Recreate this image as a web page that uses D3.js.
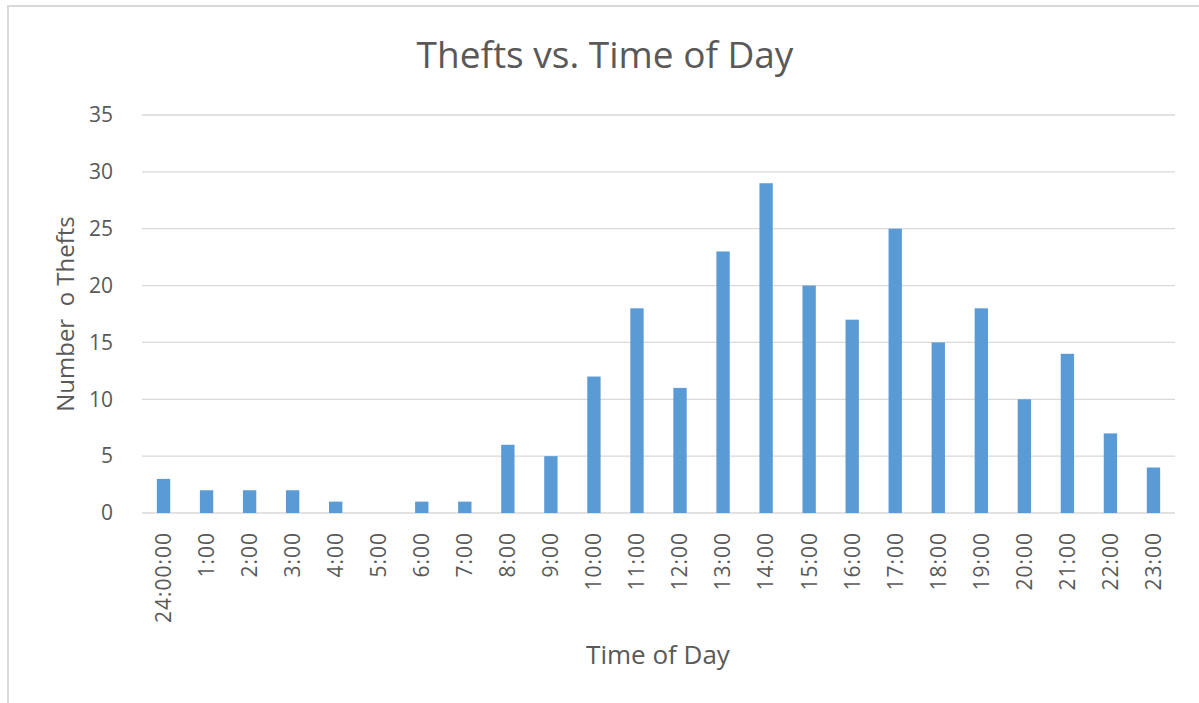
<!DOCTYPE html>
<html>
<head>
<meta charset="utf-8">
<script src="https://cdn.jsdelivr.net/npm/d3@7"></script>
<style>
  body { margin: 0; background: #fff; }
  text { font-family: "Open Sans", "Liberation Sans", sans-serif; fill: #595959; }
</style>
</head>
<body>
<div id="chart"></div>
<script>
// chart data
var hours = ["24:00:00", "1:00", "2:00", "3:00", "4:00", "5:00", "6:00", "7:00", "8:00", "9:00",
  "10:00", "11:00", "12:00", "13:00", "14:00", "15:00", "16:00", "17:00", "18:00", "19:00",
  "20:00", "21:00", "22:00", "23:00"];
var thefts = [3, 2, 2, 2, 1, 0, 1, 1, 6, 5, 12, 18, 11, 23, 29, 20, 17, 25, 15, 18, 10, 14, 7, 4];
var yTicks = [0, 5, 10, 15, 20, 25, 30, 35];

var W = 1199, H = 703;
var margin = {top: 115, right: 24, bottom: 190, left: 142},
    width = 1175 - margin.left,
    height = 513 - margin.top;

var svg = d3.select("#chart")
  .append("svg")
    .attr("width", W)
    .attr("height", H);

// outer frame (only top/left visible in the crop)
svg.append("rect")
  .attr("x", 8).attr("y", 6)
  .attr("width", W + 10).attr("height", H + 10)
  .attr("fill", "none")
  .attr("stroke", "#d9d9d9")
  .attr("stroke-width", 2);

var g = svg.append("g")
  .attr("transform", "translate(" + margin.left + "," + margin.top + ")");

var x = d3.scaleBand()
  .domain(hours)
  .range([0, width])
  .paddingInner(0.69)
  .paddingOuter(0.345);

var y = d3.scaleLinear()
  .domain([0, 35])
  .range([height, 0]);

// gridlines
g.append("g")
  .selectAll("line")
  .data(yTicks)
  .enter()
  .append("line")
    .attr("x1", 0)
    .attr("x2", width)
    .attr("y1", function(d) { return y(d); })
    .attr("y2", function(d) { return y(d); })
    .attr("stroke", "#d9d9d9")
    .attr("stroke-width", 1.3);

// y axis
var yAxis = g.append("g")
  .attr("transform", "translate(-26,0)")
  .call(d3.axisLeft(y).tickValues(yTicks).tickSize(0));
yAxis.select(".domain").remove();
yAxis.selectAll("text")
  .style("font-size", "21px")
  .attr("fill", "#595959");

// bars
g.append("g")
  .selectAll("rect")
  .data(thefts)
  .enter()
  .append("rect")
    .attr("x", function(d, i) { return x(hours[i]); })
    .attr("y", function(d) { return y(d); })
    .attr("width", x.bandwidth())
    .attr("height", function(d) { return height - y(d); })
    .attr("fill", "#5b9bd5");

// x axis
var xAxis = g.append("g")
  .attr("transform", "translate(0," + height + ")")
  .call(d3.axisBottom(x).tickSize(0));
xAxis.select(".domain").remove();
xAxis.selectAll("text")
  .style("font-size", "21px")
  .style("letter-spacing", "1px")
  .attr("fill", "#595959")
  .attr("text-anchor", "end")
  .attr("transform", "rotate(-90)")
  .attr("x", -19)
  .attr("y", 0)
  .attr("dy", "0.35em");

// title
svg.append("text")
  .attr("x", 605)
  .attr("y", 68)
  .attr("text-anchor", "middle")
  .style("font-size", "37px")
  .text("Thefts vs. Time of Day");

// y axis label
svg.append("text")
  .attr("transform", "rotate(-90)")
  .attr("x", -314)
  .attr("y", 74)
  .attr("text-anchor", "middle")
  .style("font-size", "24px")
  .style("white-space", "pre")
  .text("Number  o Thefts");

// x axis label
svg.append("text")
  .attr("x", 658)
  .attr("y", 664)
  .attr("text-anchor", "middle")
  .style("font-size", "26px")
  .text("Time of Day");
</script>
</body>
</html>
